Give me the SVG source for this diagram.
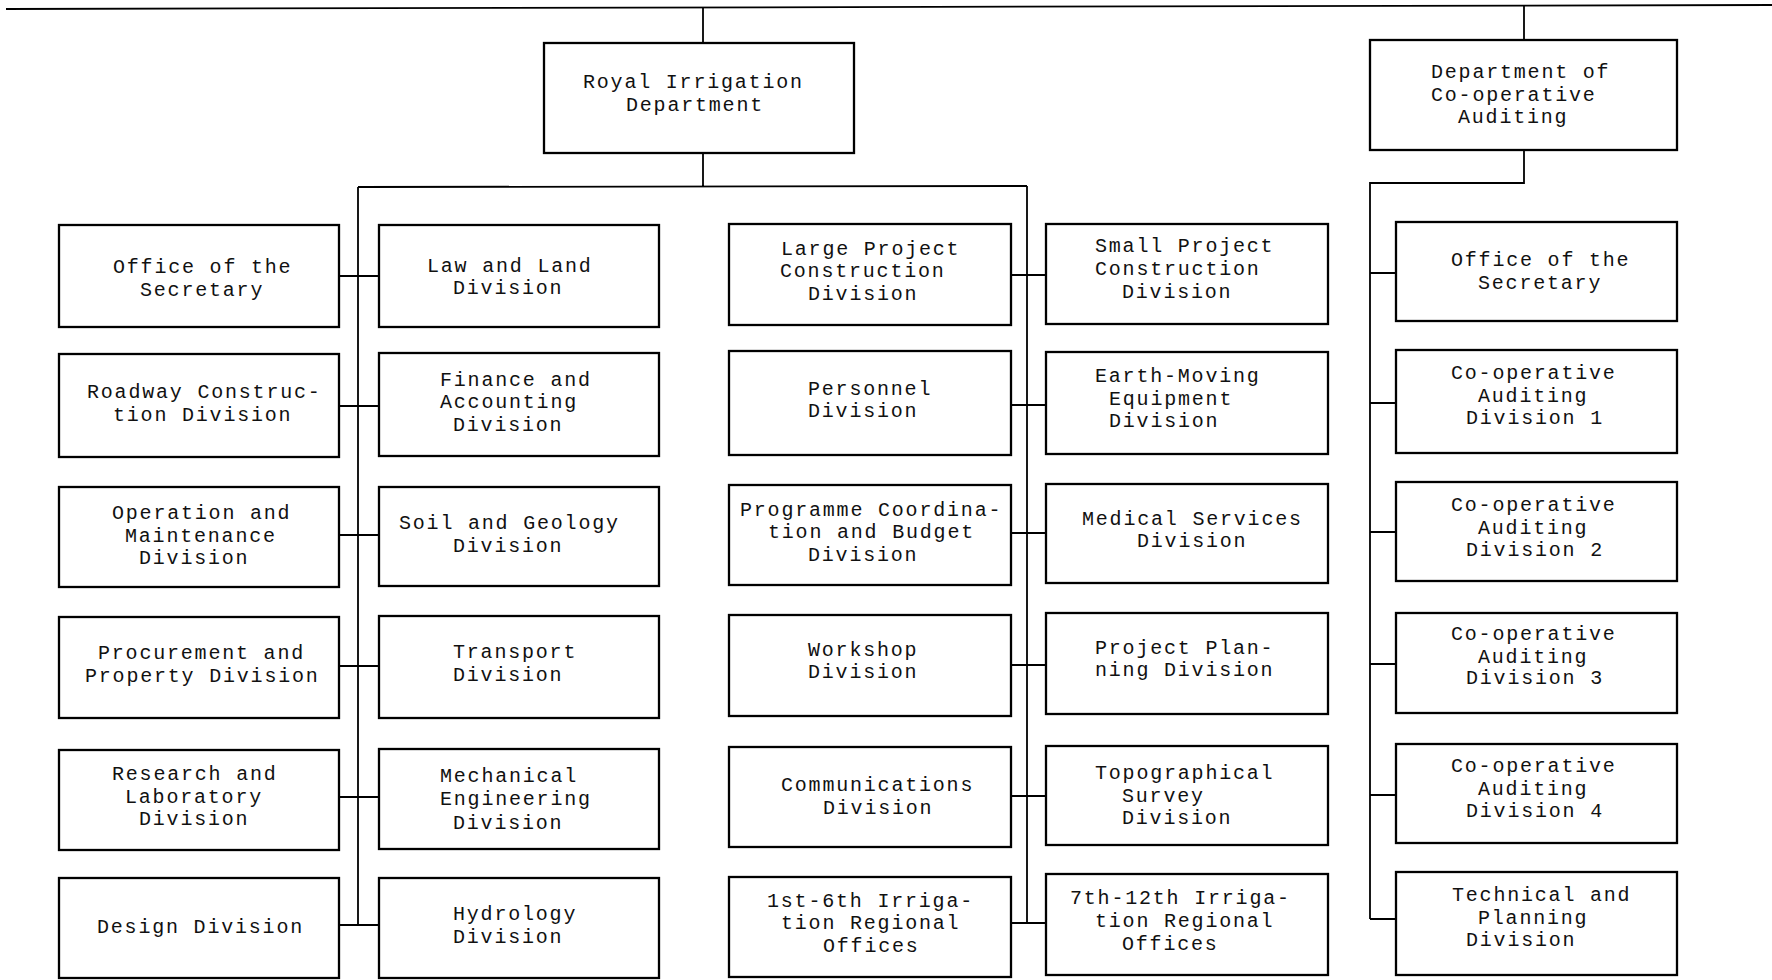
<svg xmlns="http://www.w3.org/2000/svg" width="1772" height="980" viewBox="0 0 1772 980">
<style>
.bg{fill:#fff}
.box{fill:#fff;stroke:#000;stroke-width:2.3}
.ln{fill:none;stroke:#000;stroke-width:1.8}
text{font-family:"Liberation Mono","Courier New",monospace;font-size:20px;letter-spacing:1.8px;fill:#111}
</style>
<rect class="bg" x="0" y="0" width="1772" height="980"/>
<g id="connectors">
<path class="ln" d="M6 9 L1772 5"/>
<path class="ln" d="M703 8 V43 M1524 6 V40"/>
<path class="ln" d="M703 153 V186 M358 187 L1027 186 M358 187 V925 M1027 186 V923"/>
<path class="ln" d="M339 276 H379 M339 406 H379 M339 535 H379 M339 666 H379 M339 797 H379 M339 925 H379"/>
<path class="ln" d="M1011 275 H1046 M1011 405 H1046 M1011 533 H1046 M1011 665 H1046 M1011 796 H1046 M1011 923 H1046"/>
<path class="ln" d="M1524 150 V183 H1370 V919 M1370 273 H1396 M1370 403 H1396 M1370 532 H1396 M1370 664 H1396 M1370 795 H1396 M1370 919 H1396"/>
</g>
<g id="royal"><rect class="box" x="544" y="43" width="310" height="110"/><text x="583" y="88">Royal Irrigation</text><text x="626" y="111">Department</text></g>
<g id="dept"><rect class="box" x="1370" y="40" width="307" height="110"/><text x="1431" y="78">Department of</text><text x="1431" y="101">Co-operative</text><text x="1458" y="123">Auditing</text></g>

<g id="a1"><rect class="box" x="59" y="225" width="280" height="102"/><text x="113" y="273">Office of the</text><text x="140" y="296">Secretary</text></g>
<g id="a2"><rect class="box" x="59" y="354" width="280" height="103"/><text x="87" y="398">Roadway Construc-</text><text x="113" y="421">tion Division</text></g>
<g id="a3"><rect class="box" x="59" y="487" width="280" height="100"/><text x="112" y="519">Operation and</text><text x="125" y="542">Maintenance</text><text x="139" y="564">Division</text></g>
<g id="a4"><rect class="box" x="59" y="617" width="280" height="101"/><text x="98" y="659">Procurement and</text><text x="85" y="682">Property Division</text></g>
<g id="a5"><rect class="box" x="59" y="750" width="280" height="100"/><text x="112" y="780">Research and</text><text x="125" y="803">Laboratory</text><text x="139" y="825">Division</text></g>
<g id="a6"><rect class="box" x="59" y="878" width="280" height="100"/><text x="97" y="933">Design Division</text></g>

<g id="b1"><rect class="box" x="379" y="225" width="280" height="102"/><text x="427" y="272">Law and Land</text><text x="453" y="294">Division</text></g>
<g id="b2"><rect class="box" x="379" y="353" width="280" height="103"/><text x="440" y="386">Finance and</text><text x="440" y="408">Accounting</text><text x="453" y="431">Division</text></g>
<g id="b3"><rect class="box" x="379" y="487" width="280" height="99"/><text x="399" y="529">Soil and Geology</text><text x="453" y="552">Division</text></g>
<g id="b4"><rect class="box" x="379" y="616" width="280" height="102"/><text x="453" y="658">Transport</text><text x="453" y="681">Division</text></g>
<g id="b5"><rect class="box" x="379" y="749" width="280" height="100"/><text x="440" y="782">Mechanical</text><text x="440" y="805">Engineering</text><text x="453" y="829">Division</text></g>
<g id="b6"><rect class="box" x="379" y="878" width="280" height="100"/><text x="453" y="920">Hydrology</text><text x="453" y="943">Division</text></g>

<g id="c1"><rect class="box" x="729" y="224" width="282" height="101"/><text x="781" y="255">Large Project</text><text x="780" y="277">Construction</text><text x="808" y="300">Division</text></g>
<g id="c2"><rect class="box" x="729" y="351" width="282" height="104"/><text x="808" y="395">Personnel</text><text x="808" y="417">Division</text></g>
<g id="c3"><rect class="box" x="729" y="485" width="282" height="100"/><text x="740" y="516">Programme Coordina-</text><text x="768" y="538">tion and Budget</text><text x="808" y="561">Division</text></g>
<g id="c4"><rect class="box" x="729" y="615" width="282" height="101"/><text x="808" y="656">Workshop</text><text x="808" y="678">Division</text></g>
<g id="c5"><rect class="box" x="729" y="747" width="282" height="100"/><text x="781" y="791">Communications</text><text x="823" y="814">Division</text></g>
<g id="c6"><rect class="box" x="729" y="877" width="282" height="100"/><text x="767" y="907">1st-6th Irriga-</text><text x="781" y="929">tion Regional</text><text x="823" y="952">Offices</text></g>

<g id="d1"><rect class="box" x="1046" y="224" width="282" height="100"/><text x="1095" y="252">Small Project</text><text x="1095" y="275">Construction</text><text x="1122" y="298">Division</text></g>
<g id="d2"><rect class="box" x="1046" y="352" width="282" height="102"/><text x="1095" y="382">Earth-Moving</text><text x="1109" y="405">Equipment</text><text x="1109" y="427">Division</text></g>
<g id="d3"><rect class="box" x="1046" y="484" width="282" height="99"/><text x="1082" y="525">Medical Services</text><text x="1137" y="547">Division</text></g>
<g id="d4"><rect class="box" x="1046" y="613" width="282" height="101"/><text x="1095" y="654">Project Plan-</text><text x="1095" y="676">ning Division</text></g>
<g id="d5"><rect class="box" x="1046" y="746" width="282" height="99"/><text x="1095" y="779">Topographical</text><text x="1122" y="802">Survey</text><text x="1122" y="824">Division</text></g>
<g id="d6"><rect class="box" x="1046" y="874" width="282" height="101"/><text x="1070" y="904">7th-12th Irriga-</text><text x="1095" y="927">tion Regional</text><text x="1122" y="950">Offices</text></g>

<g id="e1"><rect class="box" x="1396" y="222" width="281" height="99"/><text x="1451" y="266">Office of the</text><text x="1478" y="289">Secretary</text></g>
<g id="e2"><rect class="box" x="1396" y="350" width="281" height="103"/><text x="1451" y="379">Co-operative</text><text x="1478" y="402">Auditing</text><text x="1466" y="424">Division 1</text></g>
<g id="e3"><rect class="box" x="1396" y="482" width="281" height="99"/><text x="1451" y="511">Co-operative</text><text x="1478" y="534">Auditing</text><text x="1466" y="556">Division 2</text></g>
<g id="e4"><rect class="box" x="1396" y="613" width="281" height="100"/><text x="1451" y="640">Co-operative</text><text x="1478" y="663">Auditing</text><text x="1466" y="684">Division 3</text></g>
<g id="e5"><rect class="box" x="1396" y="744" width="281" height="99"/><text x="1451" y="772">Co-operative</text><text x="1478" y="795">Auditing</text><text x="1466" y="817">Division 4</text></g>
<g id="e6"><rect class="box" x="1396" y="872" width="281" height="103"/><text x="1452" y="901">Technical and</text><text x="1478" y="924">Planning</text><text x="1466" y="946">Division</text></g>
</svg>
